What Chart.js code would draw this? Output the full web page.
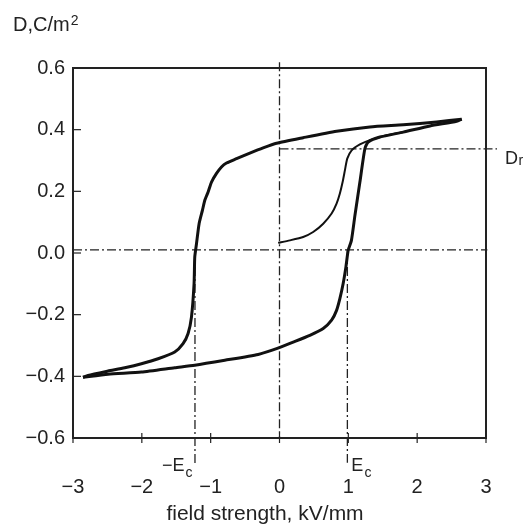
<!DOCTYPE html>
<html>
<head>
<meta charset="utf-8">
<script src="https://cdn.jsdelivr.net/npm/chart.js@4/dist/chart.umd.min.js"></script>
<style>
html,body{margin:0;padding:0;background:#fff;}
#wrap{width:531px;height:530px;}
</style>
</head>
<body>
<div id="wrap"><canvas id="c" width="531" height="530"></canvas></div>
<script>
// ---- tick values ----
const xTickValues = [-3, -2, -1, 0, 1, 2, 3];
const yTickValues = [-0.6, -0.4, -0.2, 0, 0.2, 0.4, 0.6];

// ---- hysteresis loop: upper (descending field) branch ----
const upperE = [2.647, 2.283, 1.798, 1.314, 0.829, 0.344, -0.043, -0.238, -0.431, -0.624, -0.770, -0.843, -0.915, -0.988, -1.037, -1.085, -1.119, -1.168, -1.206, -1.231, -1.241, -1.279, -1.328, -1.401, -1.522, -1.764, -2.006, -2.248, -2.491, -2.782, -2.855];
const upperD = [0.434, 0.425, 0.416, 0.409, 0.395, 0.374, 0.356, 0.341, 0.324, 0.306, 0.292, 0.279, 0.258, 0.230, 0.198, 0.171, 0.139, 0.095, 0.030, -0.013, -0.099, -0.208, -0.261, -0.294, -0.321, -0.343, -0.359, -0.372, -0.383, -0.397, -0.403];

// ---- lower (ascending field) branch ----
const lowerE = [-2.855, -2.491, -2.006, -1.522, -1.231, -0.795, -0.310, -0.043, 0.198, 0.441, 0.635, 0.757, 0.829, 0.877, 0.925, 0.965, 0.998, 1.045, 1.096, 1.168, 1.241, 1.289, 1.459, 1.798, 2.186, 2.574, 2.647];
const lowerD = [-0.403, -0.393, -0.386, -0.372, -0.364, -0.348, -0.329, -0.310, -0.289, -0.267, -0.245, -0.218, -0.186, -0.148, -0.099, -0.045, 0.009, 0.041, 0.122, 0.230, 0.339, 0.360, 0.376, 0.392, 0.412, 0.427, 0.434];

// ---- initial (virgin) curve ----
const virginE = [-0.020, 0.150, 0.344, 0.489, 0.635, 0.757, 0.829, 0.877, 0.917, 0.950, 0.984, 1.048, 1.168, 1.314, 1.556, 1.798];
const virginD = [0.033, 0.041, 0.052, 0.068, 0.095, 0.128, 0.160, 0.193, 0.230, 0.268, 0.306, 0.333, 0.352, 0.366, 0.382, 0.392];

// ---- characteristic values (reference lines) ----
const Dr = 0.338;
const Ec = 0.986;
const negEc = -1.228;
const zeroD = 0.01;

const FONT = '"Liberation Sans", Arial, Helvetica, sans-serif';
const INK = '#222';

const pts = (xs, ys) => xs.map((v, i) => ({x: v, y: ys[i]}));
const fmtX = v => (v < 0 ? '\u2212' : '') + Math.abs(v);
const fmtY = v => Math.abs(v) < 1e-9 ? '0.0' : (v < 0 ? '\u2212' : '') + Math.abs(v).toFixed(1);

const curve = (data, w) => ({data, showLine: true, borderColor: '#111', backgroundColor: '#111', borderWidth: w, pointRadius: 0, tension: 0.2, fill: false});
const refLine = data => ({data, showLine: true, borderColor: '#222', borderWidth: 1.3, borderDash: [9, 3, 2, 3], pointRadius: 0, tension: 0, fill: false, clip: false});

const decor = {
  id: 'decor',
  afterDatasetsDraw(chart) {
    const {ctx, chartArea: a, scales: {x, y}} = chart;
    ctx.save();
    ctx.strokeStyle = INK;
    ctx.lineWidth = 1.2;
    yTickValues.forEach(v => {
      const p = y.getPixelForValue(v);
      ctx.beginPath(); ctx.moveTo(a.left, p); ctx.lineTo(a.left + 8, p); ctx.stroke();
    });
    xTickValues.forEach(v => {
      const p = x.getPixelForValue(v);
      ctx.beginPath(); ctx.moveTo(p, a.bottom - 5); ctx.lineTo(p, a.bottom + 5); ctx.stroke();
    });
    ctx.lineWidth = 2;
    ctx.strokeRect(a.left, a.top, a.right - a.left, a.bottom - a.top);

    ctx.fillStyle = INK;
    ctx.textBaseline = 'alphabetic';
    ctx.textAlign = 'left';
    ctx.font = '20px ' + FONT;
    ctx.fillText('D,C/m', 13, 31);
    const wT = ctx.measureText('D,C/m').width;
    ctx.font = '14px ' + FONT;
    ctx.fillText('2', 13 + wT + 1, 25);

    ctx.textAlign = 'center';
    ctx.font = '21px ' + FONT;
    ctx.fillText('field strength, kV/mm', 265, 520);

    ctx.textAlign = 'left';
    const pn = x.getPixelForValue(negEc);
    ctx.font = '18px ' + FONT;
    ctx.fillText('\u2212E', pn - 33, 471);
    const wNE = ctx.measureText('\u2212E').width;
    ctx.font = '14px ' + FONT;
    ctx.fillText('c', pn - 33 + wNE + 1, 477);

    const pe = x.getPixelForValue(Ec);
    ctx.font = '18px ' + FONT;
    ctx.fillText('E', pe + 4, 471);
    const wE = ctx.measureText('E').width;
    ctx.font = '14px ' + FONT;
    ctx.fillText('c', pe + 4 + wE + 1, 477);

    const pd = y.getPixelForValue(Dr);
    ctx.font = '18px ' + FONT;
    ctx.fillText('D', 505, pd + 15.5);
    const wD = ctx.measureText('D').width;
    ctx.font = '14px ' + FONT;
    ctx.fillText('r', 505 + wD + 0.5, pd + 16.5);
    ctx.restore();
  }
};

new Chart(document.getElementById('c'), {
  type: 'scatter',
  data: {
    datasets: [
      curve(pts(upperE, upperD), 3),
      curve(pts(lowerE, lowerD), 3),
      curve(pts(virginE, virginD), 2),
      refLine([{x: 0, y: 0.619}, {x: 0, y: -0.6}]),
      refLine([{x: -3, y: zeroD}, {x: 3.02, y: zeroD}]),
      refLine([{x: 0, y: Dr}, {x: 3.16, y: Dr}]),
      refLine([{x: negEc, y: zeroD}, {x: negEc, y: -0.69}]),
      refLine([{x: Ec, y: zeroD}, {x: Ec, y: -0.68}])
    ]
  },
  options: {
    responsive: false,
    animation: false,
    devicePixelRatio: 1,
    layout: {padding: {left: 0, right: 45, top: 68, bottom: 0}},
    plugins: {legend: {display: false}, tooltip: {enabled: false}, title: {display: false}},
    scales: {
      x: {
        type: 'linear', min: -3, max: 3,
        afterFit(s) { s.height = 92; },
        afterBuildTicks(s) { s.ticks = xTickValues.map(v => ({value: v})); },
        ticks: {padding: 37, color: INK, font: {size: 20, family: FONT}, callback: fmtX, maxRotation: 0, autoSkip: false},
        grid: {display: false, drawTicks: false},
        border: {display: false}
      },
      y: {
        type: 'linear', min: -0.6, max: 0.6,
        afterFit(s) { s.width = 73; },
        afterBuildTicks(s) { s.ticks = yTickValues.map(v => ({value: v})); },
        ticks: {padding: 8, color: INK, font: {size: 20, family: FONT}, callback: fmtY, autoSkip: false},
        grid: {display: false, drawTicks: false},
        border: {display: false}
      }
    }
  },
  plugins: [decor]
});
</script>
</body>
</html>
